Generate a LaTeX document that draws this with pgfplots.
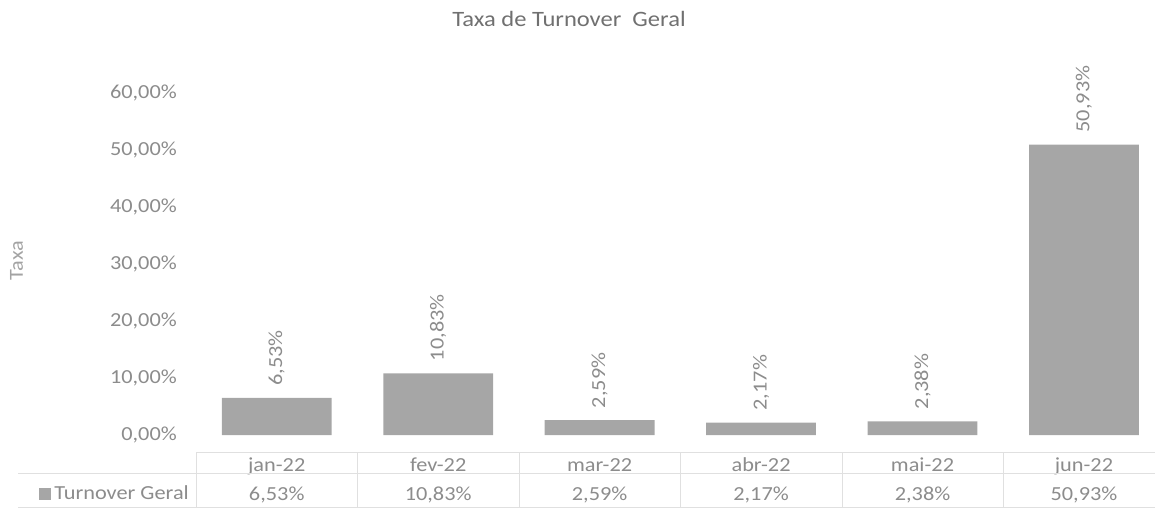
\documentclass[border=0pt]{standalone}
\usepackage{fontspec}
\setmainfont{Carlito}[FakeStretch=1.12]
\usepackage{pgfplots}
\pgfplotsset{compat=1.18}
\definecolor{barfill}{HTML}{A6A6A6}
\definecolor{txt}{HTML}{8C8C8C}
\definecolor{ttl}{HTML}{707070}
\definecolor{tbl}{HTML}{E0E0E0}
\begin{document}
\begin{tikzpicture}
\path[use as bounding box] (0,0) rectangle (1155bp,508bp);
\node[text=ttl, font=\fontsize{22}{26}\selectfont] at (569bp,489bp) {Taxa de Turnover\ \ Geral};
\begin{axis}[
  at={(196bp,73bp)}, anchor=south west,
  scale only axis, width=959bp, height=342bp,
  xmin=-0.5, xmax=5.44, ymin=0, ymax=60,
  ytick={0,10,...,60},
  xtick={0,...,5},
  xticklabels={jan-22,fev-22,mar-22,abr-22,mai-22,jun-22},
  extra x ticks={0,...,5},
  extra x tick labels={{6,53\%},{10,83\%},{2,59\%},{2,17\%},{2,38\%},{50,93\%}},
  extra x tick style={xticklabel style={yshift=-29bp}},
  axis line style={draw=none}, major tick length=0pt, tick style={draw=none},
  tick label style={font=\fontsize{20}{24}\selectfont, text=txt, inner sep=0pt},
  xticklabel style={anchor=base, yshift=-36bp},
  yticklabel style={anchor=east, xshift=-19bp},
  yticklabel={\pgfmathprintnumber[fixed,fixed zerofill,precision=2,use comma,assume math mode=true]{\tick}\%},
  ybar, bar width=0.68,
  nodes near coords={\pgfmathprintnumber[fixed,fixed zerofill,precision=2,use comma,assume math mode=true]{\pgfplotspointmeta}\%},
  nodes near coords style={rotate=90, anchor=west, font=\fontsize{20}{24}\selectfont, text=txt, inner xsep=12bp, inner ysep=0pt},
  clip=false,
  ylabel={Taxa},
  ylabel style={at={(axis description cs:-0.187,0.51)}, anchor=center, font=\fontsize{20}{24}\selectfont, text=txt!80},
]
\addplot[fill=barfill, draw=none] coordinates {(0,6.53) (1,10.83) (2,2.59) (3,2.17) (4,2.38) (5,50.93)};
\draw[tbl] (axis cs:-0.5,-2.98) -- (axis cs:5.44,-2.98);
\draw[tbl] (axis cs:-1.6,-6.67) -- (axis cs:5.44,-6.67);
\draw[tbl] (axis cs:-1.6,-12.6) -- (axis cs:5.44,-12.6);
\draw[tbl] (axis cs:-0.5,-2.98) -- (axis cs:-0.5,-12.8);
\draw[tbl] (axis cs:0.5,-2.98) -- (axis cs:0.5,-12.8);
\draw[tbl] (axis cs:1.5,-2.98) -- (axis cs:1.5,-12.8);
\draw[tbl] (axis cs:2.5,-2.98) -- (axis cs:2.5,-12.8);
\draw[tbl] (axis cs:3.5,-2.98) -- (axis cs:3.5,-12.8);
\draw[tbl] (axis cs:4.5,-2.98) -- (axis cs:4.5,-12.8);
\node[anchor=base east, inner sep=0pt, xshift=-7bp, font=\fontsize{20}{24}\selectfont, text=txt] at (axis cs:-0.5,-11.4) {\textcolor{barfill}{\rule{12bp}{12bp}}\hspace{3bp}Turnover Geral};
\end{axis}
\end{tikzpicture}
\end{document}
